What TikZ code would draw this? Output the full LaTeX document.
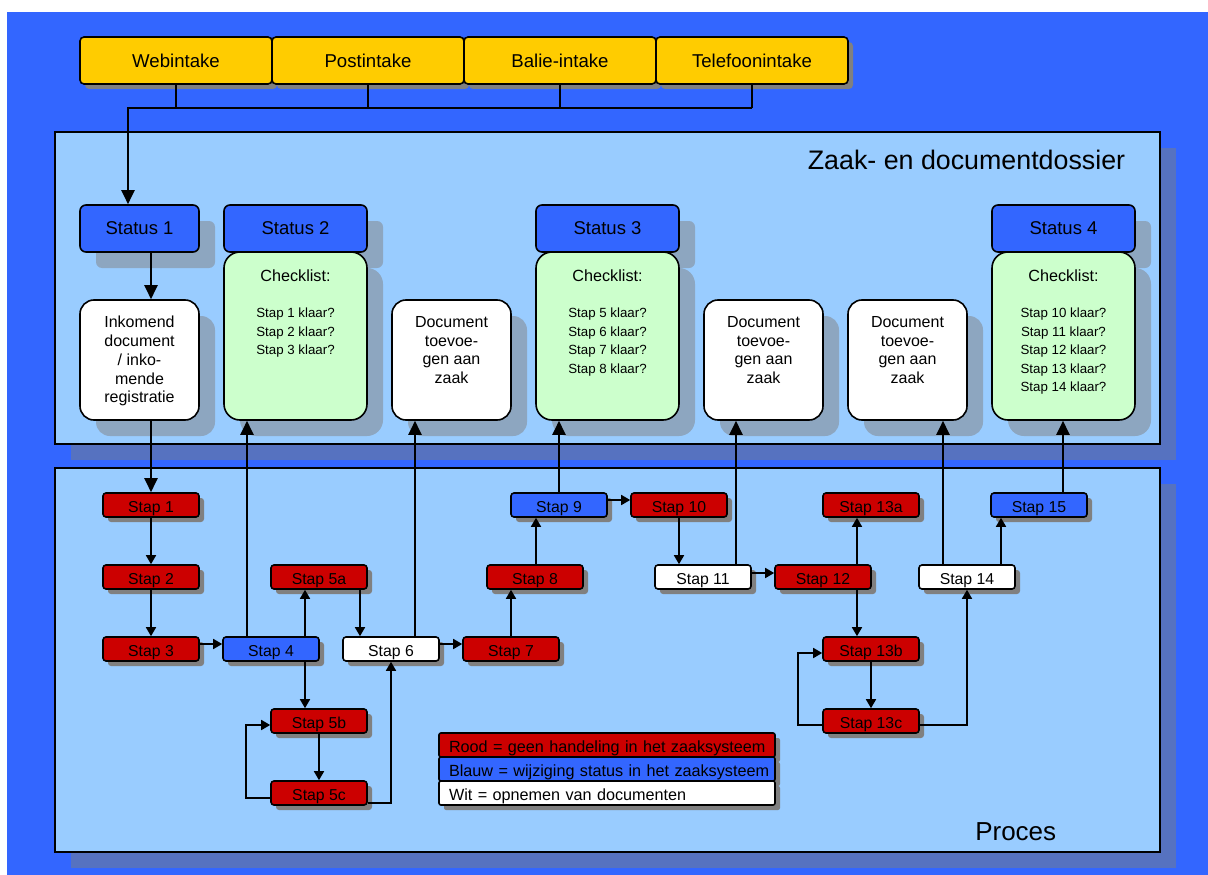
\documentclass[tikz,border=0pt]{standalone}
\usepackage{fontspec}
\setmainfont{Liberation Sans}
\usetikzlibrary{arrows.meta,shadows,calc}

\definecolor{bgblue}{RGB}{51,102,255}
\definecolor{panelfill}{RGB}{153,204,255}
\definecolor{panelshadow}{RGB}{86,114,192}
\definecolor{boxshadow}{RGB}{141,166,192}
\definecolor{grayshadow}{RGB}{128,128,128}
\definecolor{rood}{RGB}{204,0,0}
\definecolor{groen}{RGB}{204,255,204}
\definecolor{geel}{RGB}{255,204,0}

\tikzset{
  base/.style={draw=black, line width=1.6pt, inner sep=0pt},
  gshadow/.style={drop shadow={opacity=1, fill=grayshadow, draw=none, shadow xshift=5pt, shadow yshift=-5pt}},
  bshadow/.style={drop shadow={opacity=1, fill=boxshadow, draw=none, shadow xshift=16pt, shadow yshift=-16pt}},
  pshadow/.style={drop shadow={opacity=1, fill=panelshadow, draw=none, shadow xshift=16pt, shadow yshift=-16pt}},
  panelbox/.style={draw=black, line width=1.5pt, fill=panelfill, inner sep=0pt, pshadow},
  intake/.style={base, fill=geel, rounded corners=4pt, minimum width=192pt, minimum height=47pt,
    font=\fontsize{18.6}{22}\selectfont, gshadow},
  statusbox/.style={base, fill=bgblue, rounded corners=6pt, minimum height=47pt,
    font=\fontsize{18.5}{22}\selectfont, bshadow},
  greenbox/.style={base, fill=groen, rounded corners=16pt, minimum width=143pt, minimum height=168pt, bshadow},
  whitebox/.style={base, fill=white, rounded corners=14pt, minimum width=119pt, minimum height=120pt, bshadow},
  stapbox/.style={base, rounded corners=3pt, minimum width=96pt, minimum height=24pt,
    text height=15pt, text depth=0pt, font=\fontsize{15.8}{19}\selectfont, gshadow},
  legendbox/.style={base, rounded corners=2pt, minimum height=24pt, text width=332pt, inner xsep=2pt,
    align=left, text height=15pt, text depth=0pt, font=\fontsize{16.2}{19}\selectfont, gshadow,
    execute at begin node={\hspace*{8pt}}},
  boxtext/.style={anchor=north, align=center, inner sep=0pt, font=\fontsize{16}{18.7}\selectfont},
  checktitle/.style={inner sep=0pt, font=\fontsize{16.2}{19}\selectfont},
  checkitems/.style={anchor=north, align=center, inner sep=0pt, font=\fontsize{13.3}{18.6}\selectfont},
  bigarr/.style={line width=2.4pt, -{Triangle[length=14pt,width=13pt]}},
  arr/.style={line width=1.7pt, -{Triangle[length=9pt,width=10pt]}},
}

\begin{document}
\begin{tikzpicture}[x=1pt,y=-1pt]
\useasboundingbox (0,0) rectangle (1208,875);
\fill[bgblue] (7,12) rectangle (1208,875);

% panels
\node[panelbox, minimum width=1105pt, minimum height=312pt] (zaak) at (607.5,288) {};
\node[panelbox, minimum width=1105pt, minimum height=384pt] (proces) at (607.5,660) {};
\node[inner sep=0pt, font=\fontsize{26.8}{32}\selectfont] (titelzaak) at (966.5,160) {Zaak- en documentdossier};
\node[inner sep=0pt, font=\fontsize{26}{31}\selectfont] (titelproces) at (1015.7,832) {Proces};

% intake
\node[intake] (web) at (176,60.5) {Webintake};
\node[intake] (post) at (368,60.5) {Postintake};
\node[intake] (balie) at (560,60.5) {Balie-intake};
\node[intake] (tel) at (752,60.5) {Telefoonintake};
\coordinate (hub) at (128,108);
\draw[line width=1.2pt] (web.south) -- (web.south |- hub);
\draw[line width=1.2pt] (post.south) -- (post.south |- hub);
\draw[line width=1.2pt] (balie.south) -- (balie.south |- hub);
\draw[line width=1.2pt] (tel.south) -- (tel.south |- hub);

% status boxes
\node[statusbox, minimum width=119pt] (st1) at (139.5,228.5) {Status 1};
\node[statusbox, minimum width=143pt] (st2) at (295.5,228.5) {Status 2};
\node[statusbox, minimum width=143pt] (st3) at (607.5,228.5) {Status 3};
\node[statusbox, minimum width=143pt] (st4) at (1063.5,228.5) {Status 4};

\draw[bigarr, line width=2pt] (tel.south |- hub) -- (hub) -- (hub |- st1.north);

% checklists
\node[greenbox] (ch2) at (295.5,336) {};
\node[greenbox] (ch3) at (607.5,336) {};
\node[greenbox] (ch4) at (1063.5,336) {};
\node[checktitle] (ch2t) at ([yshift=-25pt]ch2.north) {Checklist:};
\node[checktitle] (ch3t) at ([yshift=-25pt]ch3.north) {Checklist:};
\node[checktitle] (ch4t) at ([yshift=-25pt]ch4.north) {Checklist:};
\node[checkitems] (ch2i) at ([yshift=-56.5pt]ch2.north) {Stap 1 klaar?\\Stap 2 klaar?\\Stap 3 klaar?};
\node[checkitems] (ch3i) at ([yshift=-56.5pt]ch3.north) {Stap 5 klaar?\\Stap 6 klaar?\\Stap 7 klaar?\\Stap 8 klaar?};
\node[checkitems] (ch4i) at ([yshift=-56.5pt]ch4.north) {Stap 10 klaar?\\Stap 11 klaar?\\Stap 12 klaar?\\Stap 13 klaar?\\Stap 14 klaar?};

% white document boxes
\node[whitebox] (ink) at (139.5,360) {};
\node[whitebox] (doc1) at (451.5,360) {};
\node[whitebox] (doc2) at (763.5,360) {};
\node[whitebox] (doc3) at (907.5,360) {};
\node[boxtext] (inkt) at ([yshift=-17pt]ink.north) {Inkomend\\document\\/ inko-\\mende\\registratie};
\node[boxtext] (doc1t) at ([yshift=-17pt]doc1.north) {Document\\toevoe-\\gen aan\\zaak};
\node[boxtext] (doc2t) at ([yshift=-17pt]doc2.north) {Document\\toevoe-\\gen aan\\zaak};
\node[boxtext] (doc3t) at ([yshift=-17pt]doc3.north) {Document\\toevoe-\\gen aan\\zaak};

% steps
\node[stapbox, fill=rood] (s1) at (151,505) {Stap 1};
\node[stapbox, fill=rood] (s2) at (151,577) {Stap 2};
\node[stapbox, fill=rood] (s3) at (151,649) {Stap 3};
\node[stapbox, fill=bgblue] (s4) at (271,649) {Stap 4};
\node[stapbox, fill=rood] (s5a) at (319,577) {Stap 5a};
\node[stapbox, fill=rood] (s5b) at (319,721) {Stap 5b};
\node[stapbox, fill=rood] (s5c) at (319,793) {Stap 5c};
\node[stapbox, fill=white] (s6) at (391,649) {Stap 6};
\node[stapbox, fill=rood] (s7) at (511,649) {Stap 7};
\node[stapbox, fill=rood] (s8) at (535,577) {Stap 8};
\node[stapbox, fill=bgblue] (s9) at (559,505) {Stap 9};
\node[stapbox, fill=rood] (s10) at (679,505) {Stap 10};
\node[stapbox, fill=white] (s11) at (703,577) {Stap 11};
\node[stapbox, fill=rood] (s12) at (823,577) {Stap 12};
\node[stapbox, fill=rood] (s13a) at (871,505) {Stap 13a};
\node[stapbox, fill=rood] (s13b) at (871,649) {Stap 13b};
\node[stapbox, fill=rood] (s13c) at (871,721) {Stap 13c};
\node[stapbox, fill=white] (s14) at (967,577) {Stap 14};
\node[stapbox, fill=bgblue] (s15) at (1039,505) {Stap 15};

% legend
\node[legendbox, fill=rood] (lrood) at (607,745) {Rood = geen handeling in het zaaksysteem};
\node[legendbox, fill=bgblue] (lblauw) at (607,769) {Blauw = wijziging status in het zaaksysteem};
\node[legendbox, fill=white] (lwit) at (607,793) {Wit = opnemen van documenten};

% connectors
\draw[bigarr] ([xshift=11.5pt]st1.south) -- ([xshift=11.5pt]ink.north);
\draw[bigarr] ([xshift=11.5pt]ink.south) -- (s1.north);
\draw[arr] (s1.south) -- (s2.north);
\draw[arr] (s2.south) -- (s3.north);
\draw[arr] ([yshift=5pt]s3.east) -- ([yshift=5pt]s3.east -| s4.west);
\draw[bigarr] ([xshift=-24pt]s4.north) -- ([xshift=-24pt]s4.north |- ch2.south);
\draw[arr] ([xshift=34pt]s4.north) -- ([xshift=34pt]s4.north |- s5a.south);
\draw[arr] ([xshift=34pt]s4.south) -- ([xshift=34pt]s4.south |- s5b.north);
\draw[arr] ([xshift=41pt]s5a.south) -- ([xshift=41pt]s5a.south |- s6.north);
\draw[arr] (s5b.south) -- (s5c.north);
\draw[arr] ([yshift=-5pt]s5c.west) -- ++(-24pt,0) |- ([yshift=-4pt]s5b.west);
\draw[arr] ([yshift=-10pt]s5c.east) -| (s6.south);
\draw[bigarr] ([xshift=24pt]s6.north) -- ([xshift=24pt]s6.north |- doc1.south);
\draw[arr] ([yshift=5pt]s6.east) -- ([yshift=5pt]s6.east -| s7.west);
\draw[arr] (s7.north) -- (s7.north |- s8.south);
\draw[arr] ([xshift=1pt]s8.north) -- ([xshift=1pt]s8.north |- s9.south);
\draw[bigarr] (s9.north) -- (s9.north |- ch3.south);
\draw[arr] ([yshift=5pt]s9.east) -- ([yshift=5pt]s9.east -| s10.west);
\draw[arr] (s10.south) -- (s10.south |- s11.north);
\draw[bigarr] ([xshift=33pt]s11.north) -- ([xshift=33pt]s11.north |- doc2.south);
\draw[arr] ([yshift=4pt]s11.east) -- ([yshift=4pt]s11.east -| s12.west);
\draw[arr] ([xshift=34pt]s12.north) -- ([xshift=34pt]s12.north |- s13a.south);
\draw[arr] ([xshift=34pt]s12.south) -- ([xshift=34pt]s12.south |- s13b.north);
\draw[arr] (s13b.south) -- (s13c.north);
\draw[arr] ([yshift=-4pt]s13c.west) -- ++(-24pt,0) |- ([yshift=-4pt]s13b.west);
\draw[arr] ([yshift=-4pt]s13c.east) -| (s14.south);
\draw[bigarr] ([xshift=-24pt]s14.north) -- ([xshift=-24pt]s14.north |- doc3.south);
\draw[arr] ([xshift=34pt]s14.north) -- ([xshift=34pt]s14.north |- s15.south);
\draw[bigarr] ([xshift=24pt]s15.north) -- ([xshift=24pt]s15.north |- ch4.south);
\end{tikzpicture}
\end{document}
